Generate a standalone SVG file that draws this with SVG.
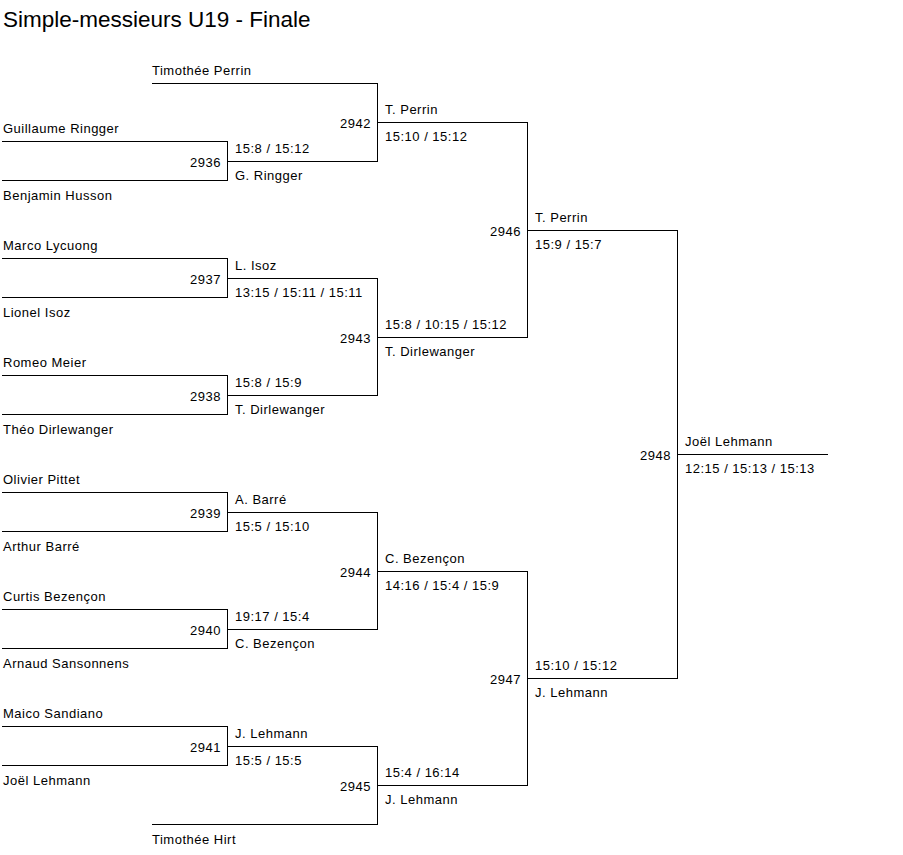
<svg xmlns="http://www.w3.org/2000/svg" width="903" height="855" viewBox="0 0 903 855">
<style>
text{font-family:"Liberation Sans",Arial,sans-serif;font-size:13px;letter-spacing:0.5px;fill:#000}
.title{font-size:22.5px;letter-spacing:0}
.num{text-anchor:end}
.c path{fill:none;stroke:#000;stroke-width:1;shape-rendering:crispEdges}
</style>
<rect width="903" height="855" fill="#fff"/>
<text class="title" x="3" y="27">Simple-messieurs U19 - Finale</text>
<g class="c" id="connectors">
<path d="M2,141.5H227.5V180.5H2M227.5,161.5H377.5"/>
<path d="M2,258.5H227.5V297.5H2M227.5,278.5H377.5"/>
<path d="M2,375.5H227.5V414.5H2M227.5,395.5H377.5"/>
<path d="M2,492.5H227.5V531.5H2M227.5,512.5H377.5"/>
<path d="M2,609.5H227.5V648.5H2M227.5,629.5H377.5"/>
<path d="M2,726.5H227.5V765.5H2M227.5,746.5H377.5"/>
<path d="M152,83.5H377.5V161.5M377.5,122.5H527.5"/>
<path d="M377.5,278.5V395.5M377.5,337.5H527.5"/>
<path d="M377.5,512.5V629.5M377.5,571.5H527.5"/>
<path d="M152,824.5H377.5V746.5M377.5,785.5H527.5"/>
<path d="M527.5,122.5V337.5M527.5,230.5H677.5"/>
<path d="M527.5,571.5V785.5M527.5,678.5H677.5"/>
<path d="M677.5,230.5V678.5M677.5,454.5H828"/>
</g>
<g id="players">
<text x="152" y="75">Timothée Perrin</text>
<text x="3" y="133">Guillaume Ringger</text>
<text x="3" y="200">Benjamin Husson</text>
<text x="3" y="250">Marco Lycuong</text>
<text x="3" y="317">Lionel Isoz</text>
<text x="3" y="367">Romeo Meier</text>
<text x="3" y="434">Théo Dirlewanger</text>
<text x="3" y="484">Olivier Pittet</text>
<text x="3" y="551">Arthur Barré</text>
<text x="3" y="601">Curtis Bezençon</text>
<text x="3" y="668">Arnaud Sansonnens</text>
<text x="3" y="718">Maico Sandiano</text>
<text x="3" y="785">Joël Lehmann</text>
<text x="152" y="844">Timothée Hirt</text>
</g>
<g id="m2936"><text class="num" x="221" y="167">2936</text><text x="235" y="153">15:8 / 15:12</text><text x="235" y="180">G. Ringger</text></g>
<g id="m2937"><text class="num" x="221" y="284">2937</text><text x="235" y="270">L. Isoz</text><text x="235" y="297">13:15 / 15:11 / 15:11</text></g>
<g id="m2938"><text class="num" x="221" y="401">2938</text><text x="235" y="387">15:8 / 15:9</text><text x="235" y="414">T. Dirlewanger</text></g>
<g id="m2939"><text class="num" x="221" y="518">2939</text><text x="235" y="504">A. Barré</text><text x="235" y="531">15:5 / 15:10</text></g>
<g id="m2940"><text class="num" x="221" y="635">2940</text><text x="235" y="621">19:17 / 15:4</text><text x="235" y="648">C. Bezençon</text></g>
<g id="m2941"><text class="num" x="221" y="752">2941</text><text x="235" y="738">J. Lehmann</text><text x="235" y="765">15:5 / 15:5</text></g>
<g id="m2942"><text class="num" x="371" y="128">2942</text><text x="385" y="114">T. Perrin</text><text x="385" y="141">15:10 / 15:12</text></g>
<g id="m2943"><text class="num" x="371" y="343">2943</text><text x="385" y="329">15:8 / 10:15 / 15:12</text><text x="385" y="356">T. Dirlewanger</text></g>
<g id="m2944"><text class="num" x="371" y="577">2944</text><text x="385" y="563">C. Bezençon</text><text x="385" y="590">14:16 / 15:4 / 15:9</text></g>
<g id="m2945"><text class="num" x="371" y="791">2945</text><text x="385" y="777">15:4 / 16:14</text><text x="385" y="804">J. Lehmann</text></g>
<g id="m2946"><text class="num" x="521" y="236">2946</text><text x="535" y="222">T. Perrin</text><text x="535" y="249">15:9 / 15:7</text></g>
<g id="m2947"><text class="num" x="521" y="684">2947</text><text x="535" y="670">15:10 / 15:12</text><text x="535" y="697">J. Lehmann</text></g>
<g id="m2948"><text class="num" x="671" y="460">2948</text><text x="685" y="446">Joël Lehmann</text><text x="685" y="473">12:15 / 15:13 / 15:13</text></g>
</svg>
